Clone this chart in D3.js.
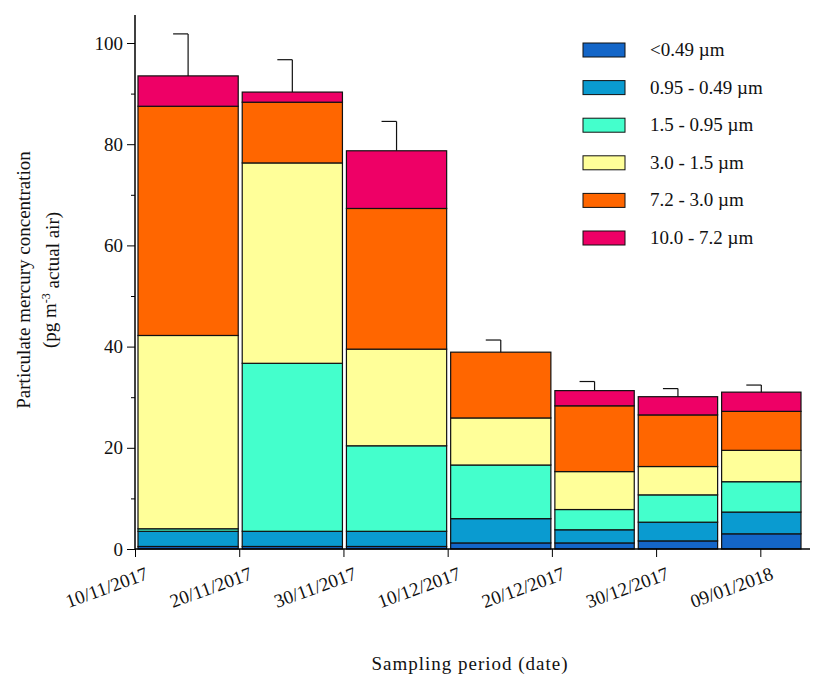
<!DOCTYPE html>
<html><head><meta charset="utf-8">
<script src="https://cdn.jsdelivr.net/npm/d3@7"></script>
<style>body{margin:0;background:#fff}text{font-family:"Liberation Serif",serif;fill:#111}</style>
</head><body><svg id="c" width="814" height="677"></svg>
<script>
// bar periods (start, end)
const periodStart = ["2017-11-10","2017-11-20","2017-11-30","2017-12-10","2017-12-20","2017-12-28","2018-01-05"];
const periodEnd   = ["2017-11-20","2017-11-30","2017-12-10","2017-12-20","2017-12-28","2018-01-05","2018-01-13"];
const sizeBins = ["<0.49 µm","0.95 - 0.49 µm","1.5 - 0.95 µm","3.0 - 1.5 µm","7.2 - 3.0 µm","10.0 - 7.2 µm"];
const binColors = ["#1466c8","#0a9bd0","#44ffcc","#ffff99","#ff6600","#ee0066"];
// concentration per size bin, pg m-3
const lt049   = [0.5,0.5,0.5,1.2,1.2,1.6,3.0];
const b095    = [3.0,3.0,3.0,4.8,2.6,3.7,4.3];
const b15     = [0.5,33.2,16.9,10.6,4.0,5.4,6.0];
const b30     = [38.2,39.6,19.1,9.3,7.5,5.6,6.2];
const b72     = [45.3,12.0,27.8,13.0,13.0,10.2,7.7];
const b100    = [6.0,2.0,11.4,0,3.0,3.6,3.8];
const errUp   = [8.3,6.4,5.8,2.4,1.8,1.6,1.4];
const tickDates = ["2017-11-10","2017-11-20","2017-11-30","2017-12-10","2017-12-20","2017-12-30","2018-01-09"];
const tickLabels = ["10/11/2017","20/11/2017","30/11/2017","10/12/2017","20/12/2017","30/12/2017","09/01/2018"];

const series=[lt049,b095,b15,b30,b72,b100];
const svg=d3.select("#c");
const pd=d3.utcParse("%Y-%m-%d");
const x=d3.scaleUtc().domain([pd("2017-11-10"),pd("2018-01-13")]).range([135,802]);
const y=d3.scaleLinear().domain([0,100]).range([549,43]);

const g=svg.append("g");
periodStart.forEach((s,i)=>{
  let cum=0;
  const x0=x(pd(s))+3,x1=x(pd(periodEnd[i]))-1;
  series.forEach((ser,k)=>{
    const v=ser[i]; if(v<=0) return;
    g.append("rect").attr("x",x0).attr("width",x1-x0).attr("y",y(cum+v)).attr("height",y(cum)-y(cum+v))
     .attr("fill",binColors[k]).attr("stroke","#111").attr("stroke-width",1.2);
    cum+=v;
  });
  const cx=(x0+x1)/2;
  g.append("line").attr("x1",cx).attr("x2",cx).attr("y1",y(cum)).attr("y2",y(cum+errUp[i])).attr("stroke","#111").attr("stroke-width",1.2);
  g.append("line").attr("x1",cx-15).attr("x2",cx).attr("y1",y(cum+errUp[i])).attr("y2",y(cum+errUp[i])).attr("stroke","#111").attr("stroke-width",1.2);
});

// axes
const ya=svg.append("g").attr("transform","translate(135,0)")
  .call(d3.axisLeft(y).tickValues(d3.range(0,101,20)).tickSize(8).tickPadding(4));
ya.select(".domain").attr("d","M-0,549V15").attr("stroke-width",1.5);
ya.selectAll("text").style("font-size","19px").attr("font-family","Liberation Serif");
svg.append("g").attr("transform","translate(135,0)").call(d3.axisLeft(y).tickValues(d3.range(10,100,20)).tickSize(4).tickFormat(""))
  .select(".domain").remove();

const xa=svg.append("g").attr("transform","translate(0,549)")
  .call(d3.axisBottom(x).tickValues(tickDates.map(pd)).tickFormat((d,i)=>tickLabels[i]).tickSize(8));
xa.select(".domain").attr("d","M135,0H810").attr("stroke-width",1.5);
xa.selectAll("text").style("font-size","19px").attr("font-family","Liberation Serif")
  .attr("text-anchor","end").attr("dy","0.3em").attr("transform","translate(8,14) rotate(-20)");

svg.append("text").attr("x",470).attr("y",670).attr("text-anchor","middle").style("font-size","19px").style("letter-spacing","1px").text("Sampling period (date)");
const yl=svg.append("text").attr("transform","translate(30,280) rotate(-90)").attr("text-anchor","middle").style("font-size","19px");
yl.append("tspan").attr("x",0).attr("dy",0).text("Particulate mercury concentration");
const t2=yl.append("tspan").attr("x",0).attr("dy","1.35em").text("(pg m");
t2.append("tspan").attr("dy","-0.5em").style("font-size","12px").text("-3");
t2.append("tspan").attr("dy","0.5em").text(" actual air)");

const lg=svg.append("g");
sizeBins.forEach((n,i)=>{
  const yy=43+i*37.6;
  lg.append("rect").attr("x",583).attr("y",yy).attr("width",42).attr("height",14).attr("fill",binColors[i]).attr("stroke","#111");
  lg.append("text").attr("x",650).attr("y",yy+13).style("font-size","19px").text(n);
});
</script></body></html>
